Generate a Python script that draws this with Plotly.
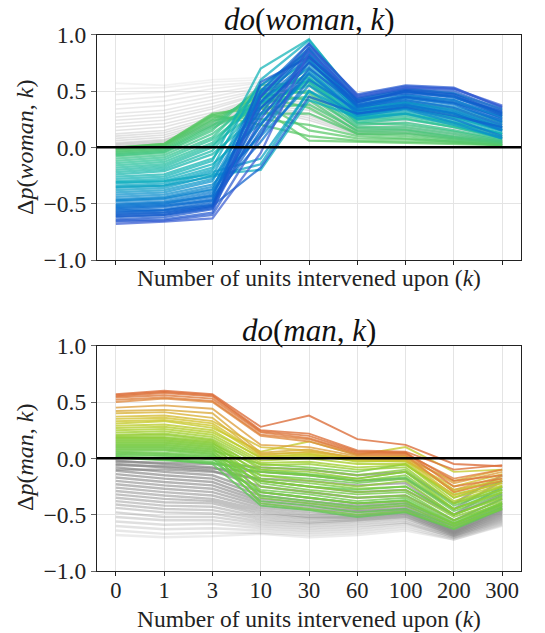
import plotly.graph_objects as go
from plotly.colors import sample_colorscale

# Number of intervened units (categorical x axis)
k_labels = ["0", "1", "3", "10", "30", "60", "100", "200", "300"]
y_ticks = [-1.0, -0.5, 0.0, 0.5, 1.0]
y_tick_text = ["\u22121.0", "\u22120.5", "0.0", "0.5", "1.0"]

# do(woman, k): units whose effect starts negative (coloured)
woman_neg = [
    [-0.003, 0.03, 0.30, 0.35, 0.06, 0.05, 0.04, 0.03, 0.02],
    [-0.005, 0.03, 0.29, 0.20, 0.10, 0.06, 0.05, 0.04, 0.02],
    [-0.01, 0.02, 0.28, 0.40, 0.15, 0.08, 0.07, 0.05, 0.02],
    [-0.015, 0.02, 0.27, 0.25, 0.20, 0.10, 0.08, 0.05, 0.02],
    [-0.02, 0.01, 0.25, 0.45, 0.35, 0.12, 0.10, 0.06, 0.03],
    [-0.03, 0.00, 0.24, 0.30, 0.30, 0.12, 0.12, 0.07, 0.03],
    [-0.04, -0.01, 0.22, 0.48, 0.42, 0.14, 0.13, 0.08, 0.04],
    [-0.05, -0.02, 0.20, 0.35, 0.38, 0.15, 0.15, 0.09, 0.04],
    [-0.06, -0.03, 0.19, 0.52, 0.48, 0.17, 0.16, 0.10, 0.05],
    [-0.07, -0.04, 0.17, 0.40, 0.45, 0.18, 0.18, 0.12, 0.05],
    [-0.08, -0.05, 0.15, 0.55, 0.58, 0.22, 0.20, 0.14, 0.06],
    [-0.10, -0.07, 0.12, 0.45, 0.50, 0.20, 0.22, 0.15, 0.07],
    [-0.12, -0.09, 0.09, 0.50, 0.62, 0.24, 0.26, 0.18, 0.09],
    [-0.14, -0.11, 0.07, 0.40, 0.55, 0.22, 0.25, 0.18, 0.08],
    [-0.16, -0.13, 0.04, 0.45, 0.65, 0.27, 0.30, 0.22, 0.12],
    [-0.18, -0.15, 0.02, 0.35, 0.60, 0.25, 0.28, 0.20, 0.10],
    [-0.20, -0.17, 0.00, 0.55, 0.82, 0.35, 0.40, 0.34, 0.22],
    [-0.22, -0.19, -0.03, 0.48, 0.78, 0.32, 0.38, 0.30, 0.18],
    [-0.24, -0.21, -0.06, 0.30, 0.58, 0.26, 0.30, 0.22, 0.12],
    [-0.26, -0.24, -0.10, 0.42, 0.70, 0.30, 0.36, 0.28, 0.15],
    [-0.28, -0.26, -0.12, 0.70, 0.96, 0.42, 0.50, 0.45, 0.30],
    [-0.30, -0.28, -0.15, 0.22, 0.62, 0.28, 0.34, 0.26, 0.14],
    [-0.31, -0.30, -0.24, -0.20, 0.42, 0.27, 0.32, 0.24, 0.12],
    [-0.32, -0.30, -0.18, 0.60, 0.95, 0.44, 0.52, 0.48, 0.34],
    [-0.34, -0.32, -0.20, 0.38, 0.75, 0.33, 0.40, 0.32, 0.20],
    [-0.35, -0.34, -0.26, -0.15, 0.50, 0.29, 0.35, 0.27, 0.15],
    [-0.36, -0.34, -0.22, -0.10, 0.50, 0.25, 0.30, 0.20, 0.08],
    [-0.38, -0.36, -0.25, 0.50, 0.88, 0.36, 0.45, 0.40, 0.27],
    [-0.40, -0.38, -0.28, 0.28, 0.68, 0.30, 0.37, 0.30, 0.16],
    [-0.42, -0.40, -0.30, 0.45, 0.80, 0.34, 0.42, 0.36, 0.24],
    [-0.44, -0.42, -0.33, 0.10, 0.55, 0.28, 0.34, 0.22, 0.08],
    [-0.46, -0.44, -0.35, 0.35, 0.72, 0.32, 0.40, 0.33, 0.18],
    [-0.47, -0.45, -0.37, 0.12, 0.66, 0.31, 0.38, 0.31, 0.17],
    [-0.48, -0.46, -0.38, 0.55, 0.85, 0.37, 0.46, 0.42, 0.28],
    [-0.50, -0.48, -0.40, 0.20, 0.65, 0.30, 0.35, 0.25, 0.10],
    [-0.51, -0.49, -0.43, 0.48, 0.83, 0.39, 0.47, 0.42, 0.26],
    [-0.52, -0.50, -0.42, 0.40, 0.78, 0.35, 0.44, 0.38, 0.22],
    [-0.53, -0.51, -0.44, 0.05, 0.60, 0.33, 0.38, 0.30, 0.15],
    [-0.54, -0.52, -0.47, 0.20, 0.76, 0.37, 0.44, 0.39, 0.23],
    [-0.55, -0.53, -0.46, 0.50, 0.92, 0.40, 0.50, 0.44, 0.32],
    [-0.56, -0.55, -0.48, 0.30, 0.82, 0.36, 0.42, 0.35, 0.20],
    [-0.57, -0.56, -0.51, 0.40, 0.86, 0.41, 0.49, 0.46, 0.29],
    [-0.58, -0.56, -0.50, 0.15, 0.70, 0.38, 0.45, 0.40, 0.25],
    [-0.59, -0.58, -0.52, -0.18, 0.45, 0.30, 0.36, 0.28, 0.18],
    [-0.60, -0.58, -0.52, 0.45, 0.88, 0.42, 0.48, 0.45, 0.28],
    [-0.61, -0.60, -0.54, 0.58, 0.80, 0.43, 0.51, 0.48, 0.31],
    [-0.62, -0.60, -0.53, 0.35, 0.75, 0.40, 0.50, 0.47, 0.30],
    [-0.64, -0.62, -0.55, 0.25, 0.80, 0.44, 0.52, 0.50, 0.33],
    [-0.65, -0.64, -0.58, 0.45, 0.92, 0.46, 0.54, 0.52, 0.36],
    [-0.66, -0.65, -0.60, 0.10, 0.90, 0.47, 0.55, 0.53, 0.35],
    [-0.68, -0.66, -0.63, -0.05, 0.85, 0.45, 0.53, 0.52, 0.37],
]

# do(woman, k): units whose effect starts positive (grey)
woman_pos = [
    [0.57, 0.55, 0.60, 0.62, 0.70, 0.35, 0.40, 0.35, 0.25],
    [0.52, 0.53, 0.58, 0.60, 0.65, 0.33, 0.38, 0.32, 0.22],
    [0.47, 0.49, 0.55, 0.58, 0.60, 0.30, 0.35, 0.30, 0.20],
    [0.42, 0.45, 0.52, 0.57, 0.62, 0.31, 0.36, 0.29, 0.19],
    [0.38, 0.41, 0.48, 0.55, 0.58, 0.29, 0.33, 0.27, 0.17],
    [0.34, 0.37, 0.45, 0.53, 0.55, 0.27, 0.31, 0.25, 0.15],
    [0.30, 0.33, 0.42, 0.51, 0.56, 0.28, 0.32, 0.26, 0.16],
    [0.27, 0.30, 0.39, 0.50, 0.52, 0.25, 0.29, 0.23, 0.14],
    [0.24, 0.27, 0.36, 0.48, 0.50, 0.24, 0.27, 0.21, 0.12],
    [0.21, 0.24, 0.34, 0.47, 0.48, 0.22, 0.25, 0.19, 0.11],
    [0.18, 0.21, 0.31, 0.45, 0.45, 0.21, 0.24, 0.18, 0.10],
    [0.15, 0.18, 0.29, 0.44, 0.42, 0.20, 0.22, 0.16, 0.09],
    [0.12, 0.15, 0.27, 0.42, 0.40, 0.18, 0.20, 0.14, 0.08],
    [0.10, 0.13, 0.25, 0.41, 0.38, 0.17, 0.18, 0.13, 0.07],
    [0.08, 0.11, 0.23, 0.40, 0.36, 0.16, 0.17, 0.12, 0.06],
    [0.06, 0.09, 0.22, 0.38, 0.33, 0.15, 0.16, 0.11, 0.06],
    [0.04, 0.07, 0.21, 0.37, 0.30, 0.14, 0.15, 0.10, 0.05],
    [0.03, 0.06, 0.20, 0.36, 0.28, 0.13, 0.14, 0.09, 0.05],
    [0.02, 0.05, 0.19, 0.35, 0.26, 0.12, 0.13, 0.08, 0.04],
    [0.01, 0.04, 0.18, 0.34, 0.24, 0.11, 0.12, 0.08, 0.04],
]

# do(man, k): units whose effect starts positive (coloured)
man_pos = [
    [0.005, -0.02, -0.04, -0.12, -0.15, -0.20, -0.17, -0.45, -0.28],
    [0.01, -0.01, -0.05, -0.42, -0.46, -0.52, -0.48, -0.63, -0.45],
    [0.02, 0.00, -0.03, -0.30, -0.35, -0.40, -0.37, -0.58, -0.40],
    [0.03, 0.02, -0.01, -0.20, -0.25, -0.28, -0.25, -0.50, -0.34],
    [0.04, 0.03, 0.00, -0.38, -0.42, -0.48, -0.45, -0.60, -0.43],
    [0.05, 0.04, 0.01, -0.10, -0.14, -0.18, -0.12, -0.42, -0.27],
    [0.06, 0.05, 0.02, -0.33, -0.38, -0.43, -0.40, -0.58, -0.41],
    [0.07, 0.07, 0.03, -0.15, -0.18, -0.22, -0.18, -0.47, -0.31],
    [0.08, 0.08, 0.04, -0.28, -0.32, -0.38, -0.35, -0.57, -0.39],
    [0.09, 0.09, 0.05, -0.40, -0.45, -0.50, -0.47, -0.62, -0.44],
    [0.10, 0.10, 0.06, -0.22, -0.28, -0.32, -0.30, -0.55, -0.36],
    [0.11, 0.11, 0.07, -0.05, -0.08, -0.12, -0.05, -0.35, -0.20],
    [0.12, 0.12, 0.08, -0.35, -0.40, -0.45, -0.42, -0.60, -0.45],
    [0.13, 0.13, 0.09, -0.18, -0.22, -0.27, -0.25, -0.50, -0.33],
    [0.14, 0.14, 0.10, -0.30, -0.35, -0.40, -0.38, -0.58, -0.42],
    [0.15, 0.15, 0.11, -0.12, -0.15, -0.20, -0.15, -0.45, -0.30],
    [0.16, 0.16, 0.12, -0.25, -0.30, -0.35, -0.33, -0.55, -0.40],
    [0.17, 0.17, 0.13, -0.08, -0.10, -0.15, -0.10, -0.40, -0.25],
    [0.18, 0.18, 0.14, -0.20, -0.25, -0.30, -0.28, -0.52, -0.38],
    [0.19, 0.19, 0.15, -0.15, -0.20, -0.25, -0.20, -0.50, -0.35],
    [0.20, 0.21, 0.16, -0.10, -0.12, -0.18, -0.12, -0.45, -0.30],
    [0.21, 0.22, 0.17, -0.06, -0.05, -0.10, -0.08, -0.40, -0.28],
    [0.23, 0.24, 0.19, -0.04, -0.03, -0.08, -0.06, -0.32, -0.22],
    [0.25, 0.26, 0.21, -0.02, 0.00, -0.05, -0.05, -0.38, -0.25],
    [0.27, 0.28, 0.23, 0.01, 0.04, -0.03, -0.02, -0.28, -0.20],
    [0.29, 0.30, 0.25, 0.00, 0.02, -0.02, -0.03, -0.35, -0.24],
    [0.31, 0.33, 0.27, 0.06, 0.15, 0.03, 0.10, -0.12, -0.10],
    [0.33, 0.34, 0.29, 0.02, 0.03, 0.00, 0.02, -0.30, -0.18],
    [0.35, 0.36, 0.31, 0.04, 0.05, -0.01, -0.02, -0.25, -0.14],
    [0.37, 0.38, 0.33, 0.10, 0.07, 0.00, -0.01, -0.33, -0.22],
    [0.40, 0.41, 0.36, 0.03, 0.06, 0.01, 0.00, -0.20, -0.10],
    [0.42, 0.43, 0.40, 0.05, 0.08, 0.00, 0.00, -0.28, -0.16],
    [0.45, 0.47, 0.44, 0.12, 0.10, 0.02, 0.02, -0.22, -0.12],
    [0.50, 0.53, 0.50, 0.20, 0.15, 0.03, 0.03, -0.30, -0.20],
    [0.52, 0.54, 0.51, 0.21, 0.17, 0.04, 0.04, -0.18, -0.10],
    [0.54, 0.56, 0.53, 0.23, 0.18, 0.05, 0.05, -0.25, -0.18],
    [0.55, 0.58, 0.55, 0.24, 0.20, 0.06, 0.05, -0.20, -0.15],
    [0.56, 0.59, 0.56, 0.25, 0.22, 0.07, 0.06, -0.10, -0.06],
    [0.57, 0.60, 0.57, 0.28, 0.38, 0.17, 0.12, -0.05, -0.07],
]

# do(man, k): units whose effect starts negative (grey)
man_neg = [
    [-0.68, -0.70, -0.69, -0.67, -0.70, -0.68, -0.64, -0.72, -0.60],
    [-0.64, -0.67, -0.66, -0.66, -0.68, -0.66, -0.62, -0.72, -0.59],
    [-0.60, -0.63, -0.62, -0.64, -0.66, -0.64, -0.60, -0.71, -0.58],
    [-0.56, -0.59, -0.58, -0.62, -0.64, -0.62, -0.58, -0.70, -0.57],
    [-0.52, -0.55, -0.55, -0.60, -0.62, -0.60, -0.57, -0.70, -0.56],
    [-0.48, -0.52, -0.52, -0.58, -0.60, -0.58, -0.55, -0.69, -0.55],
    [-0.44, -0.48, -0.49, -0.56, -0.58, -0.56, -0.53, -0.69, -0.54],
    [-0.41, -0.45, -0.46, -0.54, -0.57, -0.55, -0.52, -0.68, -0.53],
    [-0.38, -0.42, -0.43, -0.52, -0.55, -0.54, -0.51, -0.68, -0.52],
    [-0.35, -0.39, -0.40, -0.50, -0.53, -0.53, -0.50, -0.67, -0.51],
    [-0.32, -0.36, -0.38, -0.48, -0.52, -0.52, -0.49, -0.67, -0.50],
    [-0.29, -0.33, -0.36, -0.46, -0.50, -0.51, -0.48, -0.66, -0.49],
    [-0.26, -0.30, -0.33, -0.44, -0.48, -0.50, -0.47, -0.66, -0.48],
    [-0.23, -0.27, -0.30, -0.42, -0.46, -0.48, -0.46, -0.65, -0.47],
    [-0.20, -0.24, -0.27, -0.40, -0.44, -0.47, -0.45, -0.65, -0.46],
    [-0.17, -0.21, -0.24, -0.38, -0.42, -0.46, -0.44, -0.64, -0.45],
    [-0.14, -0.18, -0.21, -0.36, -0.40, -0.44, -0.42, -0.63, -0.44],
    [-0.11, -0.15, -0.18, -0.33, -0.38, -0.42, -0.40, -0.62, -0.42],
    [-0.10, -0.10, -0.12, -0.18, -0.20, -0.24, -0.22, -0.50, -0.25],
    [-0.08, -0.12, -0.15, -0.30, -0.35, -0.40, -0.38, -0.60, -0.40],
    [-0.06, -0.07, -0.09, -0.12, -0.15, -0.20, -0.18, -0.45, -0.20],
    [-0.05, -0.08, -0.11, -0.25, -0.30, -0.35, -0.33, -0.55, -0.36],
    [-0.03, -0.04, -0.05, -0.08, -0.10, -0.15, -0.12, -0.40, -0.15],
    [-0.02, -0.05, -0.08, -0.20, -0.25, -0.30, -0.28, -0.50, -0.32],
]

woman_scale = [[0.0, "#5cc864"], [0.2, "#2cc496"], [0.45, "#0cb0bc"],
               [0.62, "#0a92cc"], [0.8, "#0a6ed0"], [0.92, "#1458cc"], [1.0, "#3a5ed4"]]
man_scale = [[0.0, "#5ec85a"], [0.3, "#84cc3c"], [0.45, "#aed02a"],
             [0.6, "#d2c62e"], [0.78, "#dea23e"], [0.9, "#e0843f"], [1.0, "#dc6c38"]]

SERIF = "Liberation Serif"
W, H = 545.0, 633.0
L, R = 97.0, 521.0
fig = go.Figure()


def add_line(vals, color, opacity, width, axis):
    fig.add_trace(go.Scatter(
        x=k_labels, y=vals, mode="lines",
        line=dict(color=color, width=width), opacity=opacity,
        xaxis="x" if axis == 1 else "x2", yaxis="y" if axis == 1 else "y2",
        showlegend=False, hoverinfo="skip"))


# top panel: grey first, then coloured from green to blue
for v in woman_pos:
    a = 0.12 + 0.22 * (1 - v[0] / 0.6)
    add_line(v, "#a0a0a0", a, 1.6, 1)
wmin = min(v[0] for v in woman_neg)
for v in sorted(woman_neg, key=lambda r: -r[0]):
    c = sample_colorscale(woman_scale, [v[0] / wmin])[0]
    add_line(v, c, 0.72, 2.3, 1)

# bottom panel: grey first (lighter for larger drops), then coloured
for v in man_neg:
    a = 0.15 + 0.6 * (1 - abs(v[0]) / 0.7)
    add_line(v, "#8c8c8c", a, 2.4, 2)
mmax = max(v[0] for v in man_pos)
for v in man_pos:
    c = sample_colorscale(man_scale, [v[0] / mmax])[0]
    add_line(v, c, 0.78, 1.9, 2)


def py(p):
    return 1 - p / H


def px(p):
    return (p - L) / (R - L)


xcommon = dict(type="category", categoryorder="array", categoryarray=k_labels,
               range=[-0.39, 8.39], showgrid=True, gridcolor="#e4e4e4", gridwidth=1,
               showline=True, linecolor="#222", linewidth=1.2, mirror=True,
               ticks="outside", ticklen=4, tickcolor="#222", automargin=False,
               ticklabelstandoff=-5,
               tickfont=dict(family=SERIF, size=22.5, color="#222"))
ycommon = dict(range=[-1, 1], tickvals=y_ticks, ticktext=y_tick_text,
               showgrid=True, gridcolor="#e4e4e4", gridwidth=1, zeroline=False,
               showline=True, linecolor="#222", linewidth=1.2, mirror=True,
               ticks="outside", ticklen=5, tickcolor="#666", automargin=False,
               tickfont=dict(family=SERIF, size=23.5, color="#222"))

fig.update_layout(
    width=545, height=633, plot_bgcolor="white", paper_bgcolor="white",
    margin=dict(l=L, r=W - R, t=0, b=0, autoexpand=False),
    xaxis=dict(xcommon, anchor="y", showticklabels=False),
    yaxis=dict(ycommon, domain=[py(260), py(34.7)], anchor="x"),
    xaxis2=dict(xcommon, anchor="y2", showticklabels=True),
    yaxis2=dict(ycommon, domain=[py(571), py(345.7)], anchor="x2"),
)

# thick zero reference line drawn over the curves
for xr, yr in [("x domain", "y"), ("x2 domain", "y2")]:
    fig.add_shape(type="line", xref=xr, yref=yr, x0=0, x1=1, y0=0, y1=0,
                  line=dict(color="black", width=2.5), layer="above")

title_font = dict(family=SERIF, size=31, color="#111")
label_font = dict(family=SERIF, size=23.5, color="#222")
ylab_font = dict(family=SERIF, size=24, color="#222")
annots = [
    dict(text="<i>do</i>(<i>woman</i>, <i>k</i>)", x=0.5, y=py(19), font=title_font),
    dict(text="<i>do</i>(<i>man</i>, <i>k</i>)", x=0.5, y=py(330), font=title_font),
    dict(text="Number of units intervened upon (<i>k</i>)", x=0.5, y=py(278), font=label_font),
    dict(text="Number of units intervened upon (<i>k</i>)", x=0.5, y=py(619), font=label_font),
    dict(text="\u0394<i>p</i>(<i>woman</i>, <i>k</i>)", x=px(25), y=py(148),
         textangle=-90, font=ylab_font),
    dict(text="\u0394<i>p</i>(<i>man</i>, <i>k</i>)", x=px(25), y=py(458),
         textangle=-90, font=ylab_font),
]
for a in annots:
    fig.add_annotation(xref="paper", yref="paper", showarrow=False,
                       xanchor="center", yanchor="middle", **a)

fig.write_html("out.html")
